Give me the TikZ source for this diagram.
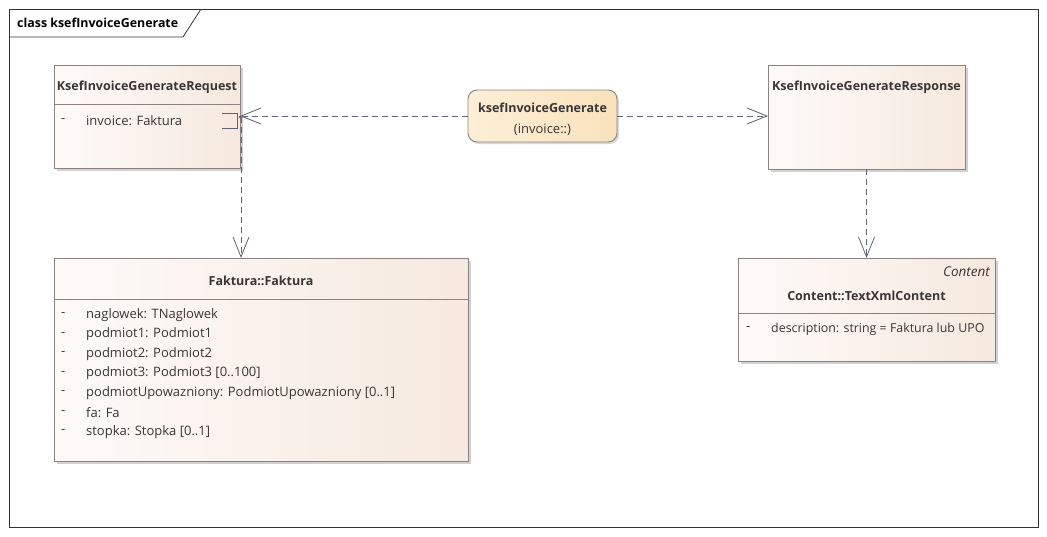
\documentclass[tikz,border=0pt]{standalone}
\usepackage{fontspec}
\setmainfont{Open Sans}
\usetikzlibrary{arrows.meta,shadows}
\definecolor{txtc}{HTML}{3A3636}
\definecolor{edgec}{HTML}{8E8281}
\definecolor{boxl}{HTML}{FDFAF8}
\definecolor{boxr}{HTML}{F6E9DF}
\definecolor{opl}{HTML}{FCEFD6}
\definecolor{opr}{HTML}{F9E2BC}
\definecolor{linec}{HTML}{5F6479}
\tikzset{
  box/.style={draw=edgec, line width=0.8pt, left color=boxl, right color=boxr,
    inner sep=0pt, outer sep=0pt, anchor=north west,
    drop shadow={shadow xshift=3pt, shadow yshift=-3pt, fill=black!18, opacity=1}},
  opbox/.style={draw=edgec, line width=0.9pt, left color=opl, right color=opr,
    rounded corners=9pt, inner sep=0pt, outer sep=0pt, anchor=north west,
    drop shadow={shadow xshift=2pt, shadow yshift=-2pt, fill=black!15, opacity=1}},
  title/.style={font=\fontsize{12.5}{14}\selectfont\bfseries, text=txtc, inner sep=0pt},
  attr/.style={font=\fontsize{13}{15}\selectfont, text=txtc, inner sep=0pt, anchor=west},
  divider/.style={draw=edgec, line width=0.8pt},
  dep/.style={draw=linec, line width=0.9pt, dash pattern=on 6pt off 4pt,
    -{Straight Barb[length=20pt,width=16pt,line width=0.8pt]}},
}
\begin{document}
\begin{tikzpicture}[x=1pt,y=-1pt]
\useasboundingbox (0,0) rectangle (1047,536);
\fill[white] (0,0) rectangle (1047,536);
% frame
\draw[black!80, line width=0.8pt] (9,9) rectangle (1038,527);
\draw[black!80, line width=0.8pt] (9,37) -- (183,37) -- (201,9);
\node[title, anchor=west, font=\fontsize{12.4}{14}\selectfont\bfseries, text=black] (frametitle) at (17,23) {class ksefInvoiceGenerate};

% Request
\node[box, minimum width=186pt, minimum height=103pt] (req) at (54,65) {};
\draw[divider] (54,104) -- (240,104);
\node[title] (reqname) at (147,87) {KsefInvoiceGenerateRequest};
\node[attr] (reqd) at (61,121) {-};
\node[attr] (reqa) at (86,121) {invoice: Faktura};
\draw[draw=linec, line width=0.9pt] (222,113) -- (237,113) -- (237,128) -- (222,128);
\coordinate (dot) at (240,117);
\fill[linec] (dot) circle (1.4pt);

% Operation
\node[opbox, minimum width=149pt, minimum height=52pt] (op) at (468,90) {};
\node[title] (opname) at (542.5,108) {ksefInvoiceGenerate};
\node[attr, anchor=center] (oparg) at (542.5,130) {(invoice::)};

% Response
\node[box, minimum width=197pt, minimum height=104pt] (resp) at (768,65) {};
\node[title] (respname) at (866.5,87) {KsefInvoiceGenerateResponse};

% Faktura
\node[box, minimum width=414pt, minimum height=203pt] (fak) at (54,258) {};
\draw[divider] (54,299) -- (468,299);
\node[title] (fakname) at (261,281) {Faktura::Faktura};
\foreach \y/\t [count=\i] in {315/{naglowek: TNaglowek},334.5/{podmiot1: Podmiot1},354/{podmiot2: Podmiot2},373.5/{podmiot3: Podmiot3 [0..100]},393/{podmiotUpowazniony: PodmiotUpowazniony [0..1]},412.5/{fa: Fa},432/{stopka: Stopka [0..1]}}{
  \node[attr] (fakd\i) at (61,\y) {-};
  \node[attr] (faka\i) at (86,\y) {\t};
}

% TextXmlContent
\node[box, minimum width=257pt, minimum height=103pt] (txt) at (738,258) {};
\draw[divider] (738,313) -- (995,313);
\node[attr, anchor=east, font=\fontsize{13.5}{15}\selectfont\itshape] (txtster) at (990,272) {Content};
\node[title] (txtname) at (866.5,296) {Content::TextXmlContent};
\node[attr] (txtd) at (746,329) {-};
\node[attr, font=\fontsize{12.4}{15}\selectfont] (txta) at (771,329) {description: string = Faktura lub UPO};

% connectors
\draw[dep] (op.west) -- (op.west -| dot);
\draw[dep] (op.east) -- (op.east -| resp.west);
\coordinate (dotb) at (241,117);
\draw[dep] (dotb) -- (dotb |- fak.north);
\draw[dep] (resp.south) -- (txt.north);
\end{tikzpicture}
\end{document}
